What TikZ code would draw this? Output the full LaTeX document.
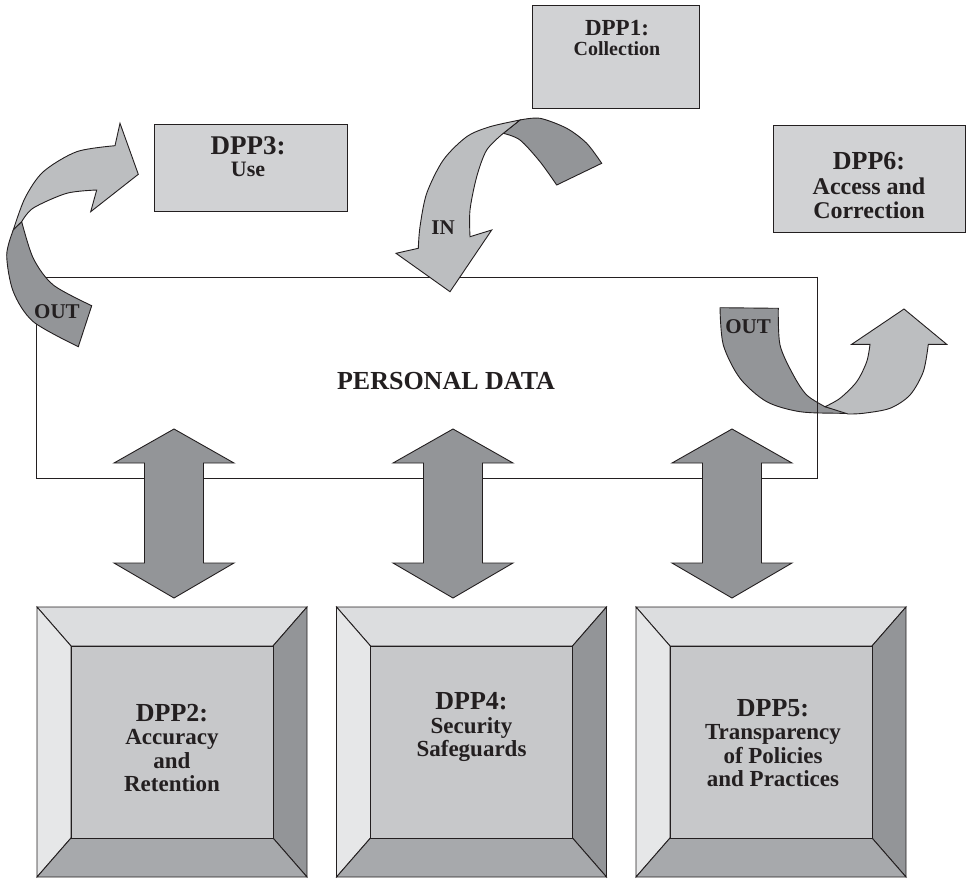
\documentclass[tikz,border=0pt]{standalone}
\usepackage{fontspec}
\setmainfont{Liberation Serif}
\definecolor{boxfill}{HTML}{D1D2D4}
\definecolor{lightarr}{HTML}{BCBEC0}
\definecolor{darkarr}{HTML}{939598}
\definecolor{bevtop}{HTML}{DCDDDF}
\definecolor{bevleft}{HTML}{E6E7E8}
\definecolor{bevright}{HTML}{939598}
\definecolor{bevbot}{HTML}{A7A9AC}
\definecolor{bevinner}{HTML}{C7C8CA}
\definecolor{txt}{HTML}{231F20}
\newcommand{\hdsize}{\fontsize{26}{24}\selectfont}
\newcommand{\bevelbox}[4]{%
  \begin{scope}[shift={(#1,607)}]
    \filldraw[outl, fill=bevtop] (0,0) -- (270,0) -- (236,39) -- (34,39) -- cycle;
    \filldraw[outl, fill=bevleft] (0,0) -- (34,39) -- (34,231) -- (0,270) -- cycle;
    \filldraw[outl, fill=bevright] (270,0) -- (270,270) -- (236,231) -- (236,39) -- cycle;
    \filldraw[outl, fill=bevbot] (0,270) -- (34,231) -- (236,231) -- (270,270) -- cycle;
    \node[outl, draw, fill=bevinner, minimum width=202pt, minimum height=192pt, inner sep=0] (#2) at (135,135) {};
  \end{scope}
  \node[lbl, font=\bfseries\fontsize{23}{23.5}\selectfont] (#2t) at #3 {#4};
}
\newcommand{\dblarrow}[2]{%
  \begin{scope}[shift={(#1,0)}]
    \filldraw[outl, fill=darkarr] (0,429) -- (60,463) -- (29.5,463) -- (29.5,563) -- (60,563) -- (0,598)
      -- (-60,563) -- (-29.5,563) -- (-29.5,463) -- (-60,463) -- cycle;
  \end{scope}
}
\begin{document}
\begin{tikzpicture}[x=1pt,y=-1pt,
  outl/.style={draw=txt, line width=0.9pt, line join=miter},
  topbox/.style={outl, draw, fill=boxfill, inner sep=0},
  lbl/.style={align=center, inner sep=0, text=txt, font=\bfseries}]
\useasboundingbox (0,0) rectangle (968,878);

% main rectangle
\node[outl, draw, minimum width=781pt, minimum height=201pt, inner sep=0] (pd) at (426.5,377.5) {};
\node[lbl, font=\bfseries\fontsize{26}{28}\selectfont] (pdt) at (446,381) {PERSONAL DATA};

% top boxes
\node[topbox, minimum width=167pt, minimum height=103pt] (dpp1) at (615.5,56.5) {};
\node[lbl, font=\bfseries\fontsize{20}{20}\selectfont] (dpp1t) at (617,38) {{\fontsize{23}{20}\selectfont DPP1:}\\Collection};
\node[topbox, minimum width=193pt, minimum height=87pt] (dpp3) at (250.5,167.5) {};
\node[lbl, font=\bfseries\fontsize{22}{22}\selectfont] (dpp3t) at (248,157) {{\fontsize{27}{22}\selectfont DPP3:}\\Use};
\node[topbox, minimum width=192pt, minimum height=107pt] (dpp6) at (869,178.5) {};
\node[lbl, font=\bfseries\fontsize{24}{24.5}\selectfont] (dpp6t) at (869,186) {{\hdsize DPP6:}\\Access and\\Correction};

% left OUT arrow (to DPP3)
\filldraw[outl, fill=lightarr] plot[smooth] coordinates {(13.3,230) (25,198) (43.3,171.7) (76.7,151.7) (115,145.7)}
  -- (120,123.3) -- (138.3,174.3) -- (90.7,211.7) -- (96.7,190)
  -- plot[smooth] coordinates {(96.7,190) (66.7,193.3) (33.3,208) (21.7,221.7)} -- cycle;
\filldraw[outl, fill=darkarr] plot[smooth] coordinates {(13.3,230) (6.7,255) (13.3,291.7) (33.3,321.7) (78.3,346.7)}
  -- (91.7,305.7)
  -- plot[smooth] coordinates {(91.7,305.7) (53.3,285) (33.3,258.3) (21.7,221.7)} -- cycle;
\node[lbl, font=\bfseries\fontsize{21}{21}\selectfont] (out1) at (57,312) {OUT};

% IN arrow (from DPP1)
\filldraw[outl, fill=darkarr] plot[smooth] coordinates {(520,120) (540,118.3) (566.7,128.3) (586.7,143.3) (601.7,163.3)}
  -- (556.7,185)
  -- plot[smooth] coordinates {(556.7,185) (540,161.7) (520,140) (503.3,133.3)} -- cycle;
\filldraw[outl, fill=lightarr] plot[smooth] coordinates {(520,120) (490,126.7) (466.7,136.7) (443.3,160) (426.7,193.3) (420,226.7) (418.3,248.3)}
  -- (396,253.3) -- (450,291.7) -- (491.7,230) -- (470,236.7)
  -- plot[smooth] coordinates {(470,236.7) (470,210) (476.7,176.7) (486.7,150) (503.3,133.3)} -- cycle;
\node[lbl, font=\bfseries\fontsize{21}{21}\selectfont] (in1) at (443,228) {IN};

% right OUT arrow (to DPP6)
\filldraw[outl, fill=darkarr] plot[smooth] coordinates {(720,307.7) (723.3,345) (740,378.3) (766.7,401.7) (800,411.7) (840,413.3) (850,413.3)}
  -- (825,406.7)
  -- plot[smooth] coordinates {(825,406.7) (806.7,395) (793.3,375) (780,345) (778.3,308.3)} -- cycle;
\filldraw[outl, fill=lightarr] (825,406.7) -- (848,414)
  -- plot[smooth] coordinates {(848,414) (863.3,413.3) (890,408.3) (910,395) (923.3,371.7) (928.3,344.3)}
  -- (946.7,344.3) -- (904,309) -- (851.7,344.3) -- (870,344.3)
  -- plot[smooth] coordinates {(870,344.3) (866.7,361.7) (856.7,381.7) (840,398.3) (825,406.7)} -- cycle;
\node[lbl, font=\bfseries\fontsize{21}{21}\selectfont] (out2) at (748,327) {OUT};
\draw[outl] (pd.north east) -- (pd.south east);

% bottom boxes
\bevelbox{37}{dpp2}{(172,748)}{{\hdsize DPP2:}\\Accuracy\\and\\Retention}
\bevelbox{336.5}{dpp4}{(471.5,727)}{{\hdsize DPP4:}\\Security\\Safeguards}
\bevelbox{636}{dpp5}{(773,743)}{{\hdsize DPP5:}\\Transparency\\of Policies\\and Practices}

% double arrows
\dblarrow{174}{a2}
\dblarrow{453}{a4}
\dblarrow{732}{a5}
\end{tikzpicture}
\end{document}
